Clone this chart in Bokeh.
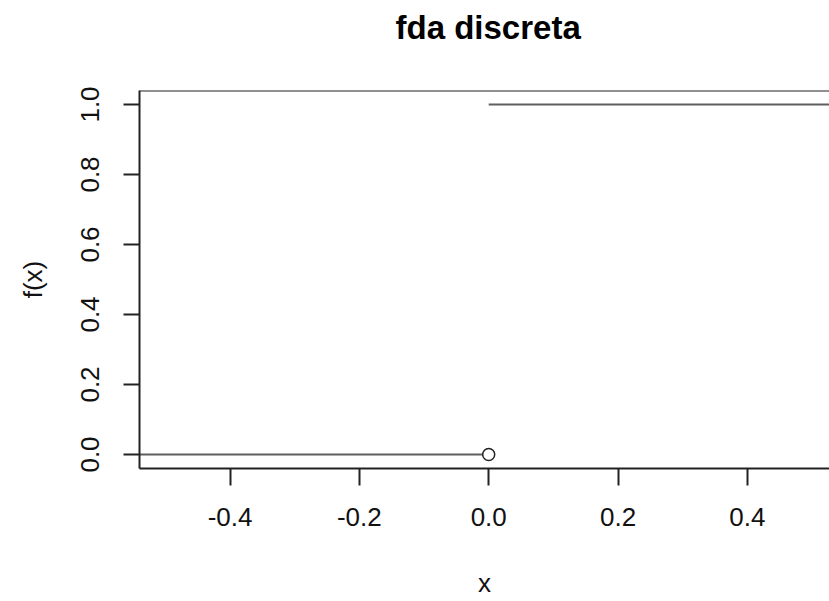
from bokeh.plotting import figure
from bokeh.models import Range1d, FixedTicker, Span, Title
from bokeh.embed import file_html
from bokeh.resources import INLINE

# ---- data ----
title_text = "fda discreta"
x_label = "x"
y_label = "f(x)"
jump_x = [0.0]                 # location of the jump
levels = [0.0, 1.0]            # value before / after the jump
x_ticks = [-0.4, -0.2, 0.0, 0.2, 0.4]
x_tick_labels = ["-0.4", "-0.2", "0.0", "0.2", "0.4"]
y_ticks = [0.0, 0.2, 0.4, 0.6, 0.8, 1.0]
y_tick_labels = ["0.0", "0.2", "0.4", "0.6", "0.8", "1.0"]
x_lim = (-0.54, 0.527)
y_lim = (-0.04, 1.04)
seg_extent = (-0.6, 0.6)

W, H = 829, 601
FRAME_LEFT, FRAME_TOP, FRAME_BOTTOM = 139, 90, 468
FONT = "Liberation Sans"

p = figure(width=W, height=H, output_backend="svg", toolbar_location=None,
           x_range=Range1d(*x_lim), y_range=Range1d(*y_lim),
           min_border_left=FRAME_LEFT, min_border_top=FRAME_TOP, min_border_right=0,
           min_border_bottom=H - FRAME_BOTTOM, title=None)
p.outline_line_color = None
p.grid.visible = False
p.background_fill_color = "white"
p.border_fill_color = "white"

# spacer panel between frame and title, then the title itself
spacer = Title(text=" ", text_font_size="1px", standoff=33, text_color="white")
p.add_layout(spacer, "above")
t = Title(text=title_text, align="left", vertical_align="top", text_font=FONT,
          text_font_size="33px", text_font_style="bold", text_color="black",
          offset=256, standoff=14)
p.add_layout(t, "above")

# step function segments
x0 = [seg_extent[0]] + jump_x
x1 = jump_x + [seg_extent[1]]
p.segment(x0=x0, y0=levels, x1=x1, y1=levels, line_color="#5e5e5e", line_width=2)
# open circle at the jump (value before the jump)
p.scatter(x=jump_x, y=levels[:1], marker="circle", size=12, fill_color="white",
          line_color="#222222", line_width=1.5)

# top border of the box
p.add_layout(Span(location=y_lim[1], dimension="width", line_color="#222222", line_width=2))

for ax in (p.xaxis[0], p.yaxis[0]):
    ax.axis_line_color = "#222222"
    ax.axis_line_width = 2
    ax.major_tick_line_color = "#222222"
    ax.major_tick_line_width = 2
    ax.minor_tick_line_color = None
    ax.major_tick_in = 0
    ax.major_label_text_font = FONT
    ax.major_label_text_font_size = "26px"
    ax.major_label_text_color = "#111111"
    ax.axis_label_text_font = FONT
    ax.axis_label_text_font_size = "26px"
    ax.axis_label_text_font_style = "normal"
    ax.axis_label_text_color = "#111111"

p.xaxis[0].ticker = FixedTicker(ticks=x_ticks)
p.xaxis[0].major_label_overrides = dict(zip(x_ticks, x_tick_labels))
p.xaxis[0].major_tick_out = 17
p.xaxis[0].major_label_standoff = 22
p.xaxis[0].axis_label = x_label
p.xaxis[0].axis_label_standoff = 39

p.yaxis[0].ticker = FixedTicker(ticks=y_ticks)
p.yaxis[0].major_label_overrides = dict(zip(y_ticks, y_tick_labels))
p.yaxis[0].major_tick_out = 16
p.yaxis[0].major_label_standoff = 25
p.yaxis[0].major_label_orientation = "vertical"
p.yaxis[0].axis_label = y_label
p.yaxis[0].axis_label_standoff = 30

open("out.html", "w").write(file_html(p, INLINE))
